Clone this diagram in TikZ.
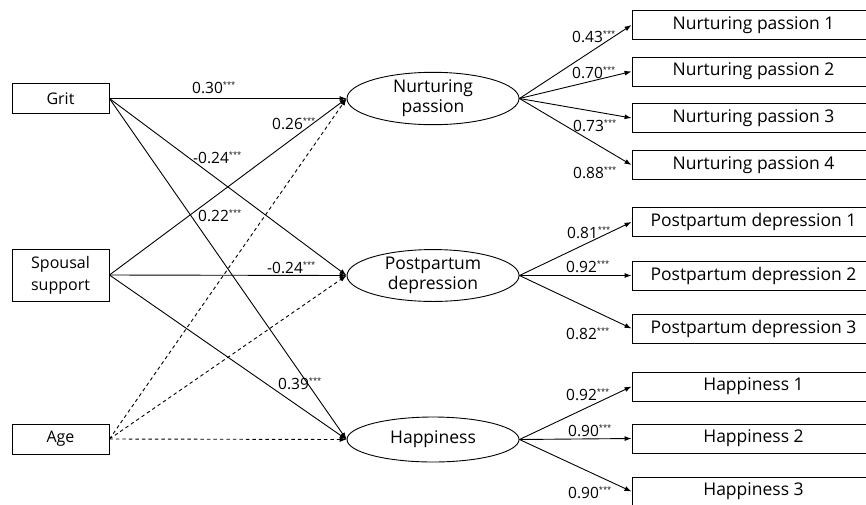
\documentclass[tikz,border=0pt]{standalone}
\usepackage{fontspec}
\setmainfont{Open Sans}
\usetikzlibrary{arrows.meta,shapes.geometric}
\begin{document}
\begin{tikzpicture}[x=1pt,y=-1pt,
  every node/.style={font=\fontsize{16}{19}\selectfont},
  obs/.style={draw,line width=0.9pt,rectangle,inner sep=0pt,align=center},
  lat/.style={draw,line width=0.9pt,ellipse,inner sep=0pt,minimum width=172pt,minimum height=45pt,align=center,font=\fontsize{17.5}{20}\selectfont},
  path/.style={line width=0.9pt,-{Latex[length=7pt,width=5pt]}},
  dpath/.style={path,dash pattern=on 3.5pt off 3pt},
  coef/.style={anchor=base west,inner sep=0pt,font=\fontsize{15.5}{18}\selectfont}
]
\useasboundingbox (0,0) rectangle (866,504);
\clip (0,0) rectangle (866,504);
% exogenous
\node[obs,minimum width=97pt,minimum height=30pt] (grit) at (60.5,98.5) {Grit};
\node[obs,minimum width=97pt,minimum height=52pt,font=\fontsize{16}{22}\selectfont] (sp) at (60.5,275) {Spousal\\support};
\node[obs,minimum width=97pt,minimum height=30pt] (age) at (60.5,439) {Age};
% latent
\node[lat] (np) at (433,98.5) {Nurturing\\passion};
\node[lat] (pd) at (433,275.5) {Postpartum\\depression};
\node[lat] (hp) at (433,439.5) {Happiness};
% indicators
\tikzset{ind/.style={obs,minimum width=243pt,minimum height=29pt,font=\fontsize{17.5}{20}\selectfont}}
\node[ind] (np1) at (753.5,25) {Nurturing passion 1};
\node[ind] (np2) at (753.5,71.5) {Nurturing passion 2};
\node[ind] (np3) at (753.5,118) {Nurturing passion 3};
\node[ind] (np4) at (753.5,165) {Nurturing passion 4};
\node[ind] (pd1) at (753.5,222) {Postpartum depression 1};
\node[ind] (pd2) at (753.5,275.5) {Postpartum depression 2};
\node[ind] (pd3) at (753.5,328.5) {Postpartum depression 3};
\node[ind] (h1) at (753.5,386.5) {Happiness 1};
\node[ind] (h2) at (753.5,438.5) {Happiness 2};
\node[ind] (h3) at (753.5,491.5) {Happiness 3};
% structural paths
\draw[path] (grit.east) -- (np.west);
\draw[path] (grit.east) -- (pd.west);
\draw[path] (grit.east) -- (hp.west);
\draw[path] (sp.east) -- (np.west);
\draw[path] (sp.east) -- (pd.west);
\draw[path] (sp.east) -- (hp.west);
\draw[dpath] (age.east) -- (np.west);
\draw[dpath] (age.east) -- (pd.west);
\draw[dpath] (age.east) -- (hp.west);
% measurement paths
\foreach \i in {np1,np2,np3,np4} \draw[path] (np.east) -- (\i.west);
\foreach \i in {pd1,pd2,pd3} \draw[path] (pd.east) -- (\i.west);
\foreach \i in {h1,h2,h3} \draw[path] (hp.east) -- (\i.west);
% coefficients
\newcommand{\st}{\textsuperscript{\fontsize{7.5}{8}\selectfont ***}}
\node[coef] at (192,93) {0.30\st};
\node[coef] at (272,129) {0.26\st};
\node[coef] at (193,163) {-0.24\st};
\node[coef] at (198,221) {0.22\st};
\node[coef] at (267,273) {-0.24\st};
\node[coef] at (278,389) {0.39\st};
\node[coef] at (572,42) {0.43\st};
\node[coef] at (572,78) {0.70\st};
\node[coef] at (573,131) {0.73\st};
\node[coef] at (573,178) {0.88\st};
\node[coef] at (567,238) {0.81\st};
\node[coef] at (566,272) {0.92\st};
\node[coef] at (566,339) {0.82\st};
\node[coef] at (566,400) {0.92\st};
\node[coef] at (568,436) {0.90\st};
\node[coef] at (568,498) {0.90\st};
\end{tikzpicture}
\end{document}
